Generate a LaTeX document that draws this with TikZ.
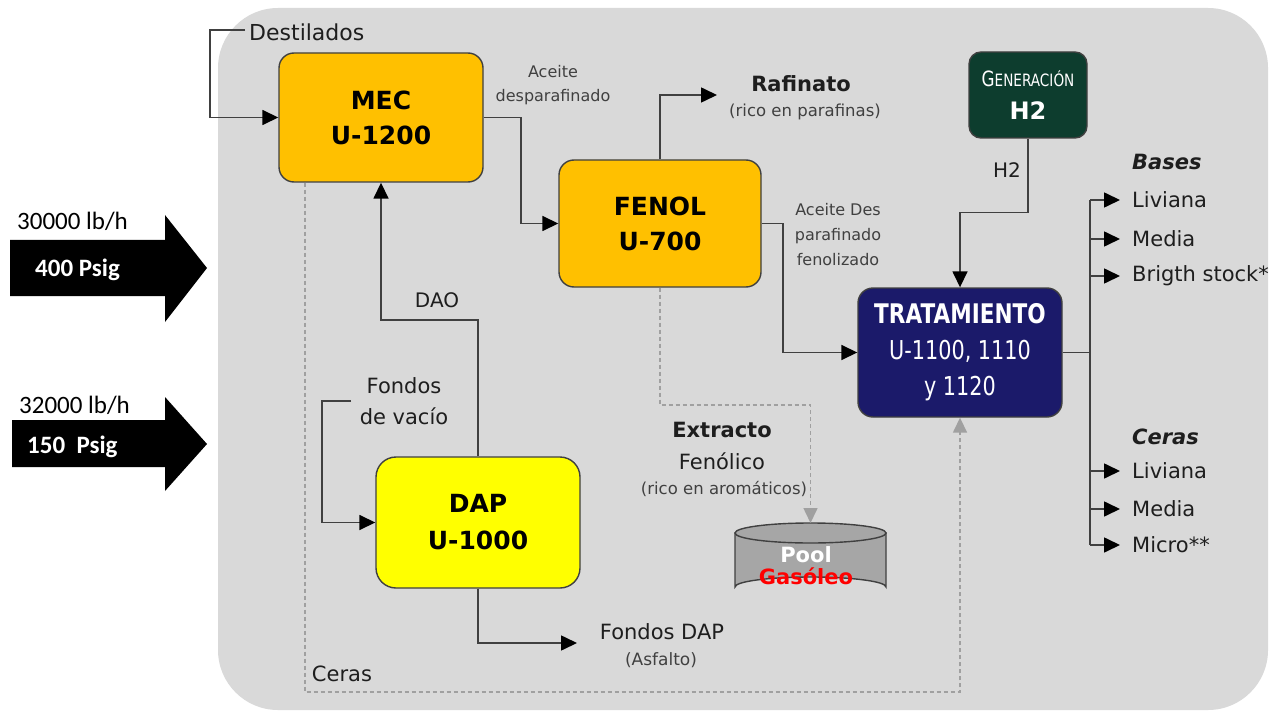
\documentclass[tikz,border=0pt]{standalone}
\usepackage{fontspec}
\setmainfont{DejaVu Sans}
\newfontfamily\narrowfont[FakeStretch=0.8]{DejaVu Sans}
\newfontfamily\calfont{Carlito}
\usetikzlibrary{arrows.meta}
\definecolor{panelgray}{HTML}{D9D9D9}
\definecolor{unitorange}{HTML}{FFC000}
\definecolor{unityellow}{HTML}{FFFF00}
\definecolor{unitnavy}{HTML}{1B1A6A}
\definecolor{unitgreen}{HTML}{0D3D2E}
\definecolor{poolgray}{HTML}{A6A6A6}
\definecolor{linegray}{HTML}{404040}
\definecolor{dotgray}{HTML}{A0A0A0}
\definecolor{txt}{HTML}{1E1E1E}
\tikzset{
  unit/.style={draw=linegray, line width=1.4pt, rounded corners=15pt, inner sep=0pt,
    align=center, text=black},
  flow/.style={draw=linegray, line width=1.6pt},
  arr/.style={flow, -{Triangle[length=16pt,width=15pt,color=black,fill=black]}},
  dotflow/.style={draw=dotgray, line width=1.6pt, dash pattern=on 4pt off 3pt},
  dotarr/.style={dotflow, -{Triangle[length=15pt,width=14pt,fill=dotgray]}},
  lbl/.style={inner sep=0pt, text=txt, align=center},
  outlbl/.style={inner sep=0pt, inner xsep=12pt, anchor=west, text=txt,
    font=\fontsize{21}{25}\selectfont},
}
\begin{document}
\begin{tikzpicture}[x=1pt, y=-1pt]
\useasboundingbox (0,0) rectangle (1281,711);
\fill[white] (0,0) rectangle (1281,711);

% panel behind the process
\fill[panelgray, rounded corners=60pt] (218,8) rectangle (1268,710);

% feed arrows on the left
\fill[black] (10,240) -- (165,240) -- (165,215) -- (207,268) -- (165,322) -- (165,296) -- (10,296) -- cycle;
\fill[black] (12,420) -- (165,420) -- (165,397) -- (207,444) -- (165,491) -- (165,467) -- (12,467) -- cycle;
\node[lbl, anchor=west, text=black, font=\calfont\fontsize{25}{30}\selectfont] (f1) at (17,221) {30000 lb/h};
\node[lbl, anchor=west, text=white, font=\calfont\bfseries\fontsize{25}{30}\selectfont] (p1) at (35,270) {400 Psig};
\node[lbl, anchor=west, text=black, font=\calfont\fontsize{25}{30}\selectfont] (f2) at (19,405) {32000 lb/h};
\node[lbl, anchor=west, text=white, font=\calfont\bfseries\fontsize{25}{30}\selectfont] (p2) at (27,447) {150\ \ Psig};

% process units
\node[unit, fill=unitorange, minimum width=204pt, minimum height=129pt,
  font=\bfseries\fontsize{25}{35}\selectfont] (mec) at (381,117.5) {MEC\\U-1200};
\node[unit, fill=unitorange, minimum width=202pt, minimum height=127pt,
  font=\bfseries\fontsize{25}{35}\selectfont] (fenol) at (660,223.5) {FENOL\\U-700};
\node[unit, fill=unityellow, minimum width=204pt, minimum height=131pt, rounded corners=20pt,
  font=\bfseries\fontsize{25}{37}\selectfont] (dap) at (478,522.5) {DAP\\U-1000};
\node[unit, fill=unitnavy, text=white, minimum width=204pt, minimum height=129pt,
  font=\narrowfont\fontsize{26}{36}\selectfont] (trat) at (960,352.5)
  {{\bfseries\fontsize{27}{36}\selectfont TRATAMIENTO}\\U-1100, 1110\\y 1120};
\node[unit, fill=unitgreen, text=white, minimum width=118pt, minimum height=86pt, rounded corners=12pt,
  font=\bfseries\fontsize{24}{33}\selectfont] (gen) at (1028,95)
  {{\mdseries\narrowfont\fontsize{21}{33}\selectfont G\fontsize{17}{33}\selectfont ENERACIÓN}\\H2};

% gas oil pool tank
\filldraw[fill=poolgray, draw=linegray, line width=1.4pt]
  (735,533) -- (735,587) arc[start angle=180, end angle=360, x radius=75.5, y radius=10]
  -- (886,533) -- cycle;
\filldraw[fill=poolgray, draw=linegray, line width=1.4pt] (810.5,533) ellipse [x radius=75.5, y radius=10];
\node[lbl, font=\bfseries\fontsize{21}{22}\selectfont, text=white] (pool) at (806,566)
  {Pool\\\textcolor{red}{Gasóleo}};
\coordinate (pooltop) at (810.5,523);

% stream labels
\node[lbl, anchor=west, font=\fontsize{22}{26}\selectfont] (destl) at (249,32) {Destilados};
\node[lbl, font=\fontsize{16}{24}\selectfont, text=linegray] (acl) at (553,85) {Aceite\\desparafinado};
\node[lbl, font=\bfseries\fontsize{21}{25}\selectfont] (raf) at (801,84) {Rafinato};
\node[lbl, font=\fontsize{16.5}{20}\selectfont, text=linegray] (rafs) at (805,112) {(rico en parafinas)};
\node[lbl, font=\fontsize{16}{25}\selectfont, text=linegray] (acdl) at (838,235) {Aceite Des\\parafinado\\fenolizado};
\node[lbl, font=\fontsize{20}{24}\selectfont] (daol) at (437,300) {DAO};
\node[lbl, font=\fontsize{21}{31}\selectfont] (fvl) at (404,401) {Fondos\\de vacío};
\node[lbl, font=\bfseries\fontsize{21}{25}\selectfont] (extl) at (722,430) {Extracto};
\node[lbl, font=\fontsize{21}{25}\selectfont] (fenl) at (722,461) {Fenólico};
\node[lbl, font=\fontsize{16.5}{20}\selectfont, text=linegray] (arol) at (724,489) {(rico en aromáticos)};
\node[lbl, font=\fontsize{21}{25}\selectfont] (fdl) at (662,632) {Fondos DAP};
\node[lbl, font=\fontsize{17}{20}\selectfont, text=linegray] (asfl) at (661,660) {(Asfalto)};
\node[lbl, font=\fontsize{21}{25}\selectfont] (cerl) at (342,674) {Ceras};
\node[lbl, font=\fontsize{20}{24}\selectfont] (h2l) at (1007,170) {H2};

% products
\node[lbl, anchor=west, font=\bfseries\itshape\fontsize{21}{25}\selectfont] (bases) at (1132,162) {Bases};
\node[outlbl] (b1) at (1120,200) {Liviana};
\node[outlbl] (b2) at (1120,239) {Media};
\node[outlbl] (b3) at (1120,276) {Brigth stock*};
\node[lbl, anchor=west, font=\bfseries\itshape\fontsize{21}{25}\selectfont] (ceras) at (1132,437) {Ceras};
\node[outlbl] (c1) at (1120,471) {Liviana};
\node[outlbl] (c2) at (1120,509) {Media};
\node[outlbl] (c3) at (1120,545) {Micro**};

% coordinates for stream ends and bends
\coordinate (destin) at (245,30);
\coordinate (rafend) at (717,95);
\coordinate (fvin) at (351,401);
\coordinate (fdend) at (577,643);
\coordinate (bus) at (1090,352.5);
\coordinate (ceraspath) at (305,692);

% main streams
\draw[arr] (destin) -- (210,30) |- (mec.west);
\draw[arr] (mec.east) -- ++(37,0) |- (fenol.west);
\draw[arr] (fenol.north) |- (rafend);
\draw[arr] (fenol.east) -- ++(21,0) |- (trat.west);
\draw[arr] (gen.south) -- ++(0,74) -| (trat.north);
\draw[arr] (dap.north) -- (dap.north |- 0,320) -| (mec.south);
\draw[arr] (fvin) -- (322,401) |- (dap.west);
\draw[arr] (dap.south) |- (fdend);

% product distribution
\draw[flow] (trat.east) -- (bus);
\draw[flow] (bus |- b1.west) -- (bus |- c3.west);
\foreach \p in {b1,b2,b3,c1,c2,c3}
  \draw[arr] (bus |- \p.west) -- (\p.west);

% secondary streams
\draw[dotarr] (mec.south -| ceraspath) -- (ceraspath) -| (trat.south);
\draw[dotarr] (fenol.south) -- (660,405) -| (pooltop);
\end{tikzpicture}
\end{document}
